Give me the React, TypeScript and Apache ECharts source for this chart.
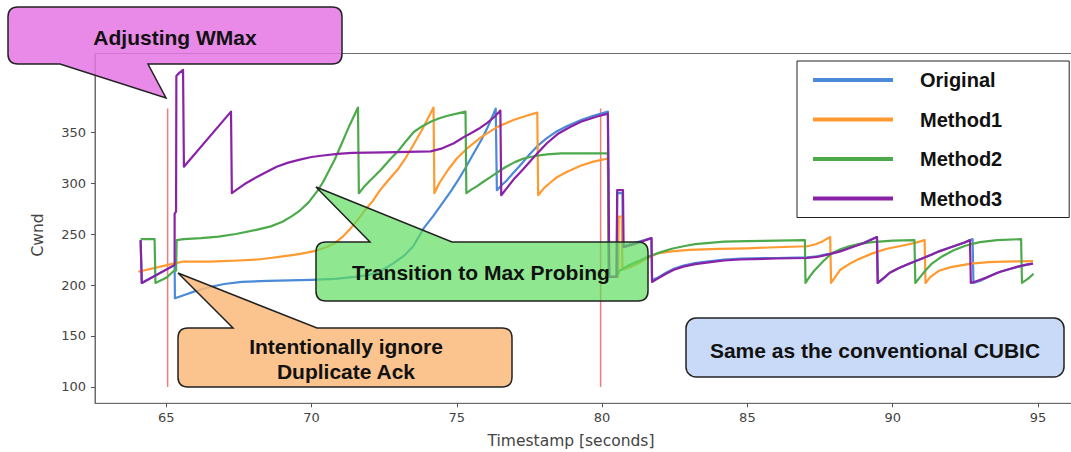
import { useEffect, useRef } from "react";
import * as echarts from "echarts";

const xTicks = [65, 70, 75, 80, 85, 90, 95];
const yTicks = [100, 150, 200, 250, 300, 350];
const seriesNames = ["Original", "Method1", "Method2", "Method3"];
const seriesColors = ["#4a8ad8", "#ff9a30", "#4caa4c", "#8a22a8"];

const originalPoints: [number, number][] = [
  [64.12, 244], [64.16, 202], [65.25, 219], [65.29, 221], [65.3, 187], [65.6, 190], [66.0, 194],
  [66.5, 198], [67.0, 201], [67.6, 203], [68.5, 204], [70, 205], [70.8, 206], [71.5, 208],
  [72.0, 210], [72.4, 214], [72.8, 221], [73.2, 229], [73.5, 238], [73.87, 256], [74.2, 268],
  [74.5, 280], [74.8, 292], [75.05, 303], [75.3, 315], [75.5, 325], [75.7, 335], [75.84, 342],
  [76.0, 351], [76.1, 357], [76.22, 365], [76.34, 373], [76.38, 293], [76.55, 298], [76.7, 302],
  [76.95, 310], [77.2, 318], [77.5, 328], [77.8, 337], [78.1, 344], [78.4, 350], [78.8, 356],
  [79.3, 362], [79.7, 366], [80.2, 370], [80.24, 208], [80.5, 208], [80.52, 290], [80.7, 290],
  [80.72, 238], [81.7, 246], [81.72, 205], [81.9, 207], [82.2, 212], [82.47, 216], [82.8, 219],
  [83.2, 221.5], [83.6, 223], [84.2, 225], [84.76, 226], [86.0, 226.5], [87.05, 227], [87.4, 228],
  [87.8, 230.5], [88.2, 233.5], [88.6, 237.5], [89.0, 241.5], [89.46, 247], [89.5, 202],
  [89.7, 207], [89.9, 212], [90.2, 216.5], [90.5, 220], [90.8, 223.5], [91.1, 227], [91.35, 230],
  [91.6, 233], [91.9, 236], [92.2, 239], [92.5, 242], [92.75, 245], [92.78, 202], [93.0, 204],
  [93.3, 208], [93.6, 212], [94.0, 215.5], [94.4, 218.5], [94.8, 221],
];

const method1Points: [number, number][] = [
  [64.04, 213], [65.25, 221], [65.6, 223], [66.5, 223], [67.5, 224], [68.15, 225], [68.6, 226.5],
  [69.0, 228], [69.4, 229.5], [69.8, 231.5], [70.2, 234], [70.5, 237], [70.8, 241], [71.1, 248],
  [71.36, 256], [71.6, 264], [71.8, 272], [72.1, 282], [72.36, 293], [72.65, 303], [72.96, 313],
  [73.25, 325], [73.5, 337], [73.8, 352], [74.0, 363], [74.2, 374], [74.23, 290], [74.4, 300],
  [74.7, 313], [75.0, 324], [75.4, 335], [75.84, 345], [76.4, 355], [76.97, 362], [77.4, 366],
  [77.77, 369], [77.8, 288], [78.0, 295], [78.2, 300], [78.46, 306], [78.8, 311], [79.26, 317],
  [79.7, 321], [80.2, 324], [80.23, 208], [80.55, 208], [80.57, 267], [80.68, 267], [80.7, 215],
  [81.0, 218], [81.3, 222], [81.6, 227], [81.9, 231], [82.4, 233], [83.0, 234.5], [84.0, 235.5],
  [85.0, 236], [86.0, 237], [87.06, 238], [87.35, 240], [87.6, 243], [87.85, 247], [87.88, 202],
  [88.05, 209], [88.2, 215], [88.5, 220.5], [88.8, 225], [89.3, 231], [89.8, 235.5], [90.4, 239],
  [90.8, 241.5], [91.1, 244], [91.13, 202], [91.3, 208], [91.6, 214], [92.0, 217.5], [92.7, 221],
  [93.3, 222.5], [93.8, 223], [94.83, 223.5],
];

const method2Points: [number, number][] = [
  [64.12, 245], [64.6, 245], [64.63, 202], [65.0, 207], [65.27, 214], [65.34, 214], [65.36, 244],
  [65.6, 245], [66.2, 246], [66.8, 247.5], [67.4, 250], [68.1, 254], [68.6, 257.5], [69.0, 262],
  [69.3, 267], [69.6, 273], [69.9, 281], [70.2, 292], [70.4, 301], [70.6, 312], [70.8, 323],
  [71.0, 336], [71.15, 346], [71.3, 356], [71.45, 365], [71.6, 374], [71.63, 290], [71.8, 296],
  [72.0, 302], [72.39, 313], [72.7, 323], [73.0, 332], [73.25, 341], [73.52, 350], [73.8, 355.5],
  [74.1, 360], [74.4, 363.5], [74.68, 366], [75.0, 368], [75.3, 370], [75.33, 290], [75.5, 293.5],
  [75.7, 297], [75.9, 301], [76.17, 306], [76.45, 311.5], [76.7, 316], [77.0, 320.5], [77.3, 324],
  [77.7, 326.5], [78.1, 328], [78.6, 329], [80.2, 329], [80.23, 208], [80.5, 208], [80.6, 214],
  [80.9, 219], [81.3, 224], [81.6, 228], [82.0, 232], [82.4, 235.5], [82.8, 238], [83.2, 240],
  [83.6, 241], [84.2, 242.5], [85.0, 243], [86.98, 244], [87.0, 202], [87.15, 208.5], [87.3, 214],
  [87.6, 223], [87.9, 231], [88.2, 235], [88.5, 238], [88.9, 240.5], [89.3, 242], [90.0, 243.5],
  [90.75, 244], [90.78, 202], [90.95, 208], [91.15, 215], [91.35, 221], [91.7, 228], [92.1, 234],
  [92.5, 238.5], [93.0, 242], [93.6, 244], [94.42, 245], [94.45, 202], [94.65, 206], [94.85, 211],
];

const method3Points: [number, number][] = [
  [64.12, 244], [64.16, 202], [65.25, 219], [65.29, 220], [65.29, 270], [65.34, 272], [65.35, 405],
  [65.45, 408], [65.58, 411], [65.61, 316], [67.23, 370], [67.26, 290], [67.45, 294], [67.7, 299],
  [68.0, 304], [68.4, 310], [68.8, 316], [69.2, 320], [69.6, 323], [70.0, 325.5], [70.4, 327],
  [70.9, 328.5], [71.4, 329.5], [72.5, 330], [74.1, 331], [74.5, 334], [74.9, 339], [75.24, 345],
  [75.5, 349], [75.8, 354], [76.05, 359], [76.3, 365], [76.5, 371], [76.53, 288], [76.75, 296],
  [77.0, 305], [77.3, 314], [77.55, 322], [77.8, 330], [78.1, 339], [78.47, 348], [78.9, 355],
  [79.27, 360], [79.8, 365], [80.2, 368], [80.25, 208], [80.5, 208], [80.52, 293], [80.72, 293],
  [80.74, 237], [81.1, 240], [81.7, 246], [81.72, 203], [81.9, 206], [82.2, 211], [82.47, 215],
  [82.8, 218], [83.2, 220.5], [83.6, 222], [84.2, 224], [84.76, 225], [86.0, 226], [87.05, 226.5],
  [87.4, 227.5], [87.8, 230], [88.2, 233], [88.6, 237], [89.0, 241], [89.46, 247], [89.48, 202],
  [89.7, 207], [89.9, 212], [90.2, 216.5], [90.5, 220], [90.8, 223.5], [91.1, 227], [91.35, 230],
  [91.6, 233], [91.9, 236], [92.2, 239], [92.45, 241.5], [92.66, 244], [92.69, 202], [92.9, 204],
  [93.2, 207], [93.45, 210], [93.7, 213], [94.0, 215.5], [94.3, 218], [94.6, 220], [94.83, 221],
];

const markerTimes = [65.05, 79.95];
const markerRange = [100, 373];

const calloutFont = "Liberation Sans, Arial, sans-serif";

function App() {
  const ref = useRef<HTMLDivElement>(null);
  useEffect(() => {
    if (!ref.current) return;
    echarts.graphic.registerShape(
      "calloutWmax",
      echarts.graphic.extendPath(
        "M18,7 H332 Q342,7 342,17 V54 Q342,64 332,64 H148 L166,98 L60,64 H18 Q8,64 8,54 V17 Q8,7 18,7 Z",
        {}
      )
    );
    echarts.graphic.registerShape(
      "calloutProbe",
      echarts.graphic.extendPath(
        "M326,242 H370 L316,187 L452,242 H638 Q648,242 648,252 V291 Q648,301 638,301 H326 Q316,301 316,291 V252 Q316,242 326,242 Z",
        {}
      )
    );
    echarts.graphic.registerShape(
      "calloutDup",
      echarts.graphic.extendPath(
        "M188,328 H233 L178,273 L317,328 H502 Q512,328 512,338 V377 Q512,387 502,387 H188 Q178,387 178,377 V338 Q178,328 188,328 Z",
        {}
      )
    );
    const chart = echarts.init(ref.current, null, { renderer: "svg" });
    const pointSets = [originalPoints, method1Points, method2Points, method3Points];
    const lineSeries = seriesNames.map((name, i) => ({
      name,
      type: "line",
      data: pointSets[i],
      showSymbol: false,
      symbol: "none",
      color: seriesColors[i],
      itemStyle: { color: seriesColors[i] },
      lineStyle: { color: seriesColors[i], width: 2.2, join: "round" },
      z: 3 + i,
    }));
    const markerSeries = markerTimes.map((t, i) => ({
      name: "marker" + i,
      type: "line",
      data: markerRange.map((v) => [t, v]),
      showSymbol: false,
      symbol: "none",
      silent: true,
      lineStyle: { color: "#f27b7b", width: 1.5 },
      z: 2,
    }));
    const calloutText = (text: string, x: number, y: number) => ({
      type: "text",
      z: 101,
      style: {
        text,
        x,
        y,
        align: "center",
        verticalAlign: "middle",
        textAlign: "center",
        textVerticalAlign: "middle",
        fontSize: 21,
        fontWeight: "bold",
        fontFamily: calloutFont,
        fill: "#111",
      },
    });
    chart.setOption({
      animation: false,
      backgroundColor: "#ffffff",
      grid: {
        left: 95,
        top: 53.5,
        right: 1100 - 1083,
        bottom: 452 - 403.3,
        show: true,
        borderColor: "#6b6b6b",
        borderWidth: 1,
      },
      legend: {
        data: seriesNames,
        orient: "vertical",
        left: 797,
        top: 61,
        padding: [9, 67, 9, 16],
        itemWidth: 80,
        itemHeight: 4,
        itemGap: 19.5,
        icon: "rect",
        backgroundColor: "#ffffff",
        borderColor: "#222",
        borderWidth: 1,
        textStyle: {
          fontSize: 20,
          fontWeight: "bold",
          color: "#111",
          fontFamily: calloutFont,
          padding: [3, 0, 0, 22],
        },
      },
      xAxis: {
        type: "value",
        min: 62.55,
        max: 96.55,
        axisLine: { show: true, lineStyle: { color: "#6b6b6b" } },
        axisTick: { show: true, length: 4, customValues: xTicks, lineStyle: { color: "#555" } },
        axisLabel: {
          customValues: xTicks,
          fontSize: 13,
          color: "#444",
          fontFamily: "DejaVu Sans",
          margin: 8,
        },
        splitLine: { show: false },
      },
      yAxis: {
        type: "value",
        min: 84,
        max: 427,
        axisLine: { show: true, lineStyle: { color: "#6b6b6b" } },
        axisTick: { show: true, length: 4, customValues: yTicks, lineStyle: { color: "#555" } },
        axisLabel: {
          customValues: yTicks,
          fontSize: 13,
          color: "#444",
          fontFamily: "DejaVu Sans",
          margin: 9,
        },
        splitLine: { show: false },
      },
      series: [...markerSeries, ...lineSeries],
      graphic: {
        elements: [
          {
            type: "text",
            z: 50,
            style: {
              text: "Timestamp [seconds]",
              x: 571,
              y: 441,
              align: "center",
              verticalAlign: "middle",
              textAlign: "center",
              textVerticalAlign: "middle",
              fontSize: 15.5,
              fontFamily: "DejaVu Sans",
              fill: "#444",
            },
          },
          {
            type: "text",
            z: 50,
            x: 38,
            y: 235,
            rotation: Math.PI / 2,
            style: {
              text: "Cwnd",
              x: 0,
              y: 0,
              align: "center",
              verticalAlign: "middle",
              textAlign: "center",
              textVerticalAlign: "middle",
              fontSize: 15.5,
              fontFamily: "DejaVu Sans",
              fill: "#444",
            },
          },
          {
            type: "calloutWmax",
            z: 100,
            style: { fill: "rgba(229,118,229,0.85)", stroke: "#222", lineWidth: 1.5 },
          },
          {
            type: "calloutProbe",
            z: 100,
            style: { fill: "rgba(95,222,95,0.7)", stroke: "#222", lineWidth: 1.5 },
          },
          {
            type: "calloutDup",
            z: 100,
            style: { fill: "rgba(250,184,121,0.85)", stroke: "#222", lineWidth: 1.5 },
          },
          {
            type: "rect",
            z: 100,
            shape: { x: 686, y: 318, width: 378, height: 59, r: 10 },
            style: { fill: "#c9daf8", stroke: "#222", lineWidth: 1.5 },
          },
          calloutText("Adjusting WMax", 175, 37),
          calloutText("Transition to Max Probing", 481, 272),
          calloutText("Intentionally ignore", 346, 346),
          calloutText("Duplicate Ack", 346, 371),
          calloutText("Same as the conventional CUBIC", 875, 350),
        ],
      },
    });
    return () => {
      chart.dispose();
    };
  }, []);
  return (
    <div
      style={{
        position: "fixed",
        left: 0,
        top: 0,
        width: 1071,
        height: 452,
        overflow: "hidden",
        background: "#ffffff",
      }}
    >
      <div ref={ref} style={{ width: 1100, height: 452 }} />
    </div>
  );
}

export default App;
